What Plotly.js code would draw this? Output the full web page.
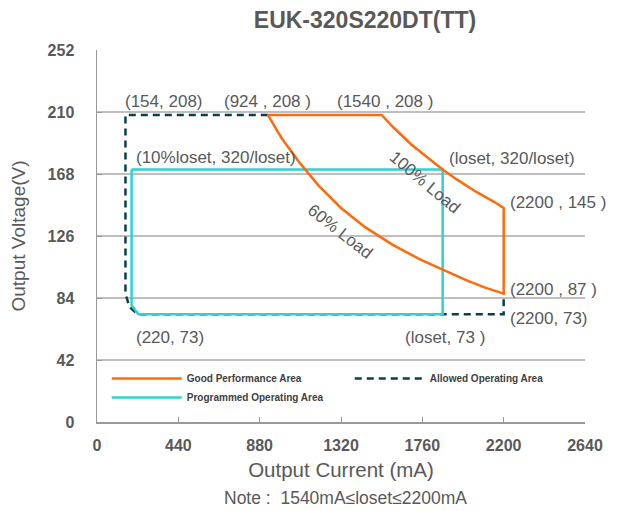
<!DOCTYPE html>
<html>
<head>
<meta charset="utf-8">
<script src="https://cdn.plot.ly/plotly-3.0.1.min.js"></script>
<style>html,body{margin:0;padding:0;background:#fff;}#chart{width:621px;height:511px;}</style>
</head>
<body>
<div id="chart"></div>
<script>
// ---- data ----
// Good Performance Area (closed outline): top edge, 100% load curve, right edge, 60% load curve
var goodI = [924, 1540, 1600, 1700, 1800, 1870, 1950, 2050, 2150, 2200, 2200, 2100, 2000, 1870, 1750, 1600, 1450, 1320, 1200, 1100, 1000, 924];
var goodV = [208, 208, 200, 188, 178, 171, 164, 156, 149, 145, 87, 91, 96, 103, 110, 120, 132, 145, 160, 175, 192, 208];
// Allowed Operating Area (dashed)
var allowI = [924, 154, 154, 175, 220, 2200, 2200];
var allowV = [208, 208, 87, 78, 73, 73, 87];
// Programmed Operating Area (loset = 1870)
var progI = [187, 1870, 1870, 224, 187, 187];
var progV = [171, 171, 73, 73, 79, 171];

var xTicks = [0, 440, 880, 1320, 1760, 2200, 2640];
var yTicks = [0, 42, 84, 126, 168, 210, 252];

var labels = [
  {t: '(154, 208)', x: 362, y: 217, a: 'center'},
  {t: '(924 , 208 )', x: 920, y: 217, a: 'center'},
  {t: '(1540 , 208 )', x: 1558, y: 217, a: 'center'},
  {t: '(10%loset, 320/loset)', x: 644, y: 179.3, a: 'center'},
  {t: '(loset, 320/loset)', x: 2246, y: 178.6, a: 'center'},
  {t: '(2200 , 145 )', x: 2222, y: 148.8, a: 'left'},
  {t: '(2200 , 87 )', x: 2222, y: 90, a: 'left'},
  {t: '(2200, 73)', x: 2222, y: 70.4, a: 'left'},
  {t: '(220, 73)', x: 395, y: 57.5, a: 'center'},
  {t: '(loset, 73 )', x: 1883, y: 57.5, a: 'center'}
];
var curveLabels = [
  {t: '100% Load', x: 1775, y: 162.4, ang: 40},
  {t: '60% Load', x: 1315, y: 129.2, ang: 38}
];

var grey = '#595959';
var font = 'Arial, "Liberation Sans", sans-serif';

var traces = [
  {x: allowI, y: allowV, mode: 'lines', name: 'Allowed Operating Area', legendrank: 2,
   line: {color: '#0b3f4a', width: 2.5, dash: '7px,5px'}},
  {x: progI, y: progV, mode: 'lines', name: 'Programmed Operating Area', legendrank: 3,
   line: {color: '#2ed3cf', width: 2.5}},
  {x: goodI, y: goodV, mode: 'lines', name: 'Good Performance Area', legendrank: 1,
   line: {color: '#ff6a0d', width: 2.5}}
];

var ann = labels.map(function (l) {
  return {text: l.t, x: l.x, y: l.y, xref: 'x', yref: 'y', xanchor: l.a, yanchor: 'middle',
          showarrow: false, font: {family: font, size: 17, color: grey}};
});
curveLabels.forEach(function (l) {
  ann.push({text: l.t, x: l.x, y: l.y, xref: 'x', yref: 'y', textangle: l.ang,
            showarrow: false, font: {family: font, size: 17, color: grey}});
});
ann.push({text: 'Note :  1540mA\u2264loset\u22642200mA', xref: 'paper', yref: 'paper',
          x: (345 - 97) / 488, y: -(498 - 422) / 372.5, xanchor: 'center', yanchor: 'middle',
          showarrow: false, font: {family: font, size: 17.5, color: grey}});

var layout = {
  width: 621, height: 511,
  margin: {l: 97, r: 36, t: 49.5, b: 89},
  paper_bgcolor: '#fff', plot_bgcolor: '#fff',
  title: {text: '<b>EUK-320S220DT(TT)</b>', x: 365 / 621, xanchor: 'center', y: 1 - 20 / 511, yanchor: 'middle',
          font: {family: font, size: 23, color: grey}},
  xaxis: {range: [0, 2640], tickvals: xTicks, ticktext: xTicks.map(String), showgrid: false, zeroline: false,
          showline: true, linecolor: '#999', linewidth: 1.5, ticks: 'inside', ticklen: 5, tickcolor: '#999',
          tickfont: {family: font, size: 16, color: grey, weight: 'bold'}, ticklabelstandoff: 8,
          title: {text: 'Output Current (mA)', font: {family: font, size: 20.5, color: grey}, standoff: 10},
          automargin: false},
  yaxis: {range: [0, 252], tickvals: yTicks, ticktext: yTicks.map(String), showgrid: true, gridcolor: '#bfbfbf', gridwidth: 1.5,
          zeroline: false, showline: true, linecolor: '#999', linewidth: 1.5, ticks: 'inside', ticklen: 5, tickcolor: '#999',
          tickfont: {family: font, size: 16, color: grey, weight: 'bold'}, ticklabelstandoff: 18,
          title: {text: 'Output Voltage(V)', font: {family: font, size: 19, color: grey}, standoff: 17},
          automargin: false},
  showlegend: true,
  legend: {orientation: 'h', x: 0.02, xanchor: 'left', y: 0.156, yanchor: 'top',
           bgcolor: 'rgba(0,0,0,0)', entrywidth: 158, entrywidthmode: 'pixels', itemwidth: 70,
           font: {family: font, size: 10, color: '#404040', weight: 'bold'},
           traceorder: 'normal'},
  annotations: ann
};

Plotly.newPlot('chart', traces, layout, {displayModeBar: false, staticPlot: true});
</script>
</body>
</html>
